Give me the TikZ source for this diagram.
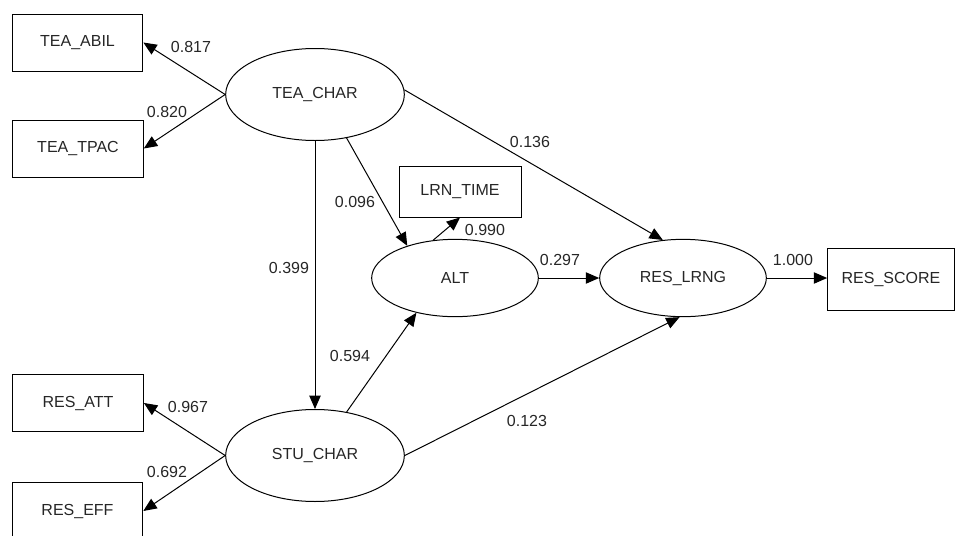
\documentclass[tikz,border=0pt]{standalone}
\usepackage{fontspec}
\setmainfont{Liberation Sans}
\usetikzlibrary{shapes.geometric,arrows.meta}

\begin{document}
\begin{tikzpicture}[x=0.75pt,y=-0.75pt]
      \tikzstyle{every node}=[font=\fontsize{12}{14}\selectfont, text=black!85]
      \tikzstyle{obs}=[draw, rectangle, line width=0.75pt, inner sep=0pt, minimum width=98pt, minimum height=42.75pt]
      \tikzstyle{lat}=[draw, ellipse, line width=0.75pt, inner sep=0pt, minimum width=134pt, minimum height=69pt]
      \tikzstyle{effect}=[line width=0.75pt, -{Triangle[length=10pt,width=8.5pt]}]
      \useasboundingbox (0,0) rectangle (958,536);

      % latent variables
      \node[lat] (TeaChar) at (315,94.5) {TEA\_CHAR};
      \node[lat] (StuChar) at (315,455.5) {STU\_CHAR};
      \node[lat, minimum width=125pt, minimum height=58pt] (Alt) at (455,278) {ALT};
      \node[lat, minimum width=125pt, minimum height=58pt] (ResLrng) at (683,278) {RES\_LRNG};

      % indicators
      \node[obs] (TeaAbil) at (77.5,42.5) {TEA\_ABIL};
      \node[obs] (TeaTpac) at (78,148.5) {TEA\_TPAC};
      \node[obs] (ResAtt) at (78,403) {RES\_ATT};
      \node[obs] (ResEff) at (77.5,511) {RES\_EFF};
      \node[obs, minimum width=91.5pt, minimum height=38.25pt] (LrnTime) at (460,191.5) {LRN\_TIME};
      \node[obs, minimum width=95pt, minimum height=46.5pt] (ResScore) at (891,279) {RES\_SCORE};

      % paths
      \draw[effect] (TeaChar.west) -- (TeaAbil.east);
      \draw[effect] (TeaChar.west) -- (TeaTpac.east);
      \draw[effect] (StuChar.west) -- (ResAtt.east);
      \draw[effect] (StuChar.west) -- (ResEff.east);
      \draw[effect] (TeaChar.south) -- (StuChar.north);
      \draw[effect] (TeaChar.-54) -- (Alt.146);
      \draw[effect] (TeaChar.3) -- (ResLrng.118);
      \draw[effect] (StuChar.54) -- (Alt.-138);
      \draw[effect] (StuChar.east) -- (ResLrng.-95);
      \draw[effect] (Alt.120) -- (LrnTime.south);
      \draw[effect] (Alt.east) -- (ResLrng.west);
      \draw[effect] (ResLrng.east) -- (ResLrng.east -| ResScore.west);

      % coefficients
      \node (cTeaAbil) at (191,47) {0.817};
      \node (cTeaTpac) at (167,112) {0.820};
      \node (cResAtt) at (188,407) {0.967};
      \node (cResEff) at (167,472) {0.692};
      \node (cTeaStu) at (289,268) {0.399};
      \node (cTeaAlt) at (355,202) {0.096};
      \node (cTeaRes) at (530,142) {0.136};
      \node (cStuAlt) at (350,356) {0.594};
      \node (cStuRes) at (527,421) {0.123};
      \node (cAltTime) at (485,230) {0.990};
      \node (cAltRes) at (560,260) {0.297};
      \node (cResScore) at (793,260) {1.000};

\end{tikzpicture}
\end{document}
